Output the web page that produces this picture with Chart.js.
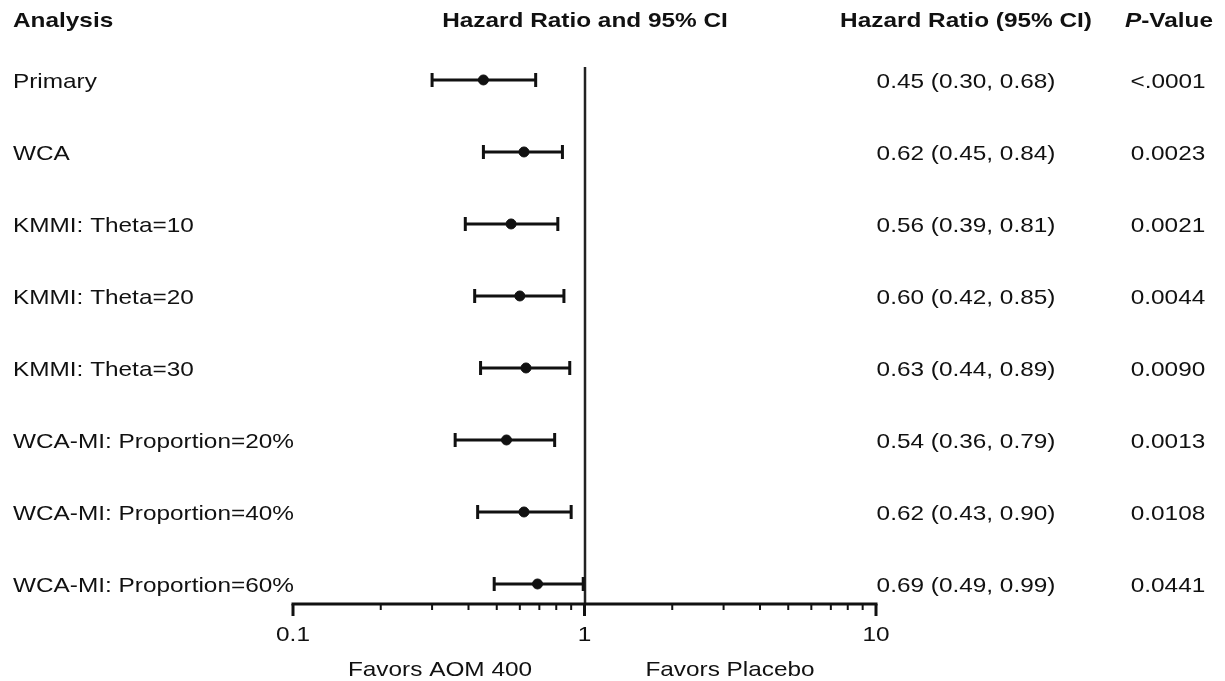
<!DOCTYPE html>
<html>
<head>
<meta charset="utf-8">
<script src="https://cdn.jsdelivr.net/npm/chart.js@4.4.1/dist/chart.umd.min.js"></script>
<style>
html,body{margin:0;padding:0;background:#fff;}
#wrap{width:1225px;height:681px;}
</style>
</head>
<body>
<div id="wrap"><canvas id="c" width="1225" height="681"></canvas></div>
<script>
const analyses = ["Primary","WCA","KMMI: Theta=10","KMMI: Theta=20","KMMI: Theta=30","WCA-MI: Proportion=20%","WCA-MI: Proportion=40%","WCA-MI: Proportion=60%"];
const hr    = [0.45,0.62,0.56,0.60,0.63,0.54,0.62,0.69];
const lower = [0.30,0.45,0.39,0.42,0.44,0.36,0.43,0.49];
const upper = [0.68,0.84,0.81,0.85,0.89,0.79,0.90,0.99];
const hrText = ["0.45 (0.30, 0.68)","0.62 (0.45, 0.84)","0.56 (0.39, 0.81)","0.60 (0.42, 0.85)","0.63 (0.44, 0.89)","0.54 (0.36, 0.79)","0.62 (0.43, 0.90)","0.69 (0.49, 0.99)"];
const pValues = ["<.0001","0.0023","0.0021","0.0044","0.0090","0.0013","0.0108","0.0441"];
const majorTicks = [0.1,1,10];
const minorTicks = [0.2,0.3,0.4,0.5,0.6,0.7,0.8,0.9,2,3,4,5,6,7,8,9];
const majorTickLabels = ["0.1","1","10"];
const favorLabels = ["Favors AOM 400","Favors Placebo"];

const FONT = '"Liberation Sans", Arial, sans-serif';
const INK = '#111';
const SX = 1.16;

function txt(ctx, s, x, y, align, font){
  ctx.save();
  ctx.font = font;
  ctx.textAlign = align;
  ctx.textBaseline = 'alphabetic';
  ctx.translate(x, y);
  ctx.scale(SX, 1);
  ctx.fillText(s, 0, 0);
  ctx.restore();
}

const forestPlugin = {
  id: 'forest',
  beforeDatasetsDraw(chart){
    const ctx = chart.ctx, x = chart.scales.x, y = chart.scales.y, a = chart.chartArea;
    ctx.save();
    ctx.strokeStyle = '#222'; ctx.lineWidth = 2.5;
    ctx.beginPath();
    const x1 = Math.round(x.getPixelForValue(1));
    ctx.moveTo(x1, a.top); ctx.lineTo(x1, a.bottom); ctx.stroke();
    ctx.strokeStyle = INK; ctx.lineWidth = 3;
    for (let i=0;i<hr.length;i++){
      const py = y.getPixelForValue(i);
      const xl = x.getPixelForValue(lower[i]), xh = x.getPixelForValue(upper[i]);
      ctx.beginPath();
      ctx.moveTo(xl, py); ctx.lineTo(xh, py);
      ctx.moveTo(xl, py-7); ctx.lineTo(xl, py+7);
      ctx.moveTo(xh, py-7); ctx.lineTo(xh, py+7);
      ctx.stroke();
    }
    ctx.restore();
  },
  afterDraw(chart){
    const ctx = chart.ctx, x = chart.scales.x, y = chart.scales.y, a = chart.chartArea;
    ctx.save();
    ctx.strokeStyle = INK; ctx.lineWidth = 3;
    const x0 = x.getPixelForValue(0.1), x10 = x.getPixelForValue(10);
    ctx.beginPath(); ctx.moveTo(x0-1.5, a.bottom); ctx.lineTo(x10+1.5, a.bottom); ctx.stroke();
    ctx.lineWidth = 3;
    majorTicks.forEach(v=>{
      const px = x.getPixelForValue(v);
      ctx.beginPath(); ctx.moveTo(px, a.bottom); ctx.lineTo(px, a.bottom+12); ctx.stroke();
    });
    ctx.lineWidth = 2;
    minorTicks.forEach(v=>{
      const px = x.getPixelForValue(v);
      ctx.beginPath(); ctx.moveTo(px, a.bottom); ctx.lineTo(px, a.bottom+6); ctx.stroke();
    });
    ctx.fillStyle = INK;
    const RF = '21px ' + FONT, BF = 'bold 21px ' + FONT, BIF = 'italic bold 21px ' + FONT;
    majorTicks.forEach((v,i)=>{
      txt(ctx, majorTickLabels[i], x.getPixelForValue(v), a.bottom+37, 'center', RF);
    });
    txt(ctx, favorLabels[0], 440, a.bottom+72, 'center', RF);
    txt(ctx, favorLabels[1], 730, a.bottom+72, 'center', RF);
    // headers
    txt(ctx, 'Analysis', 13, 27, 'left', BF);
    txt(ctx, 'Hazard Ratio and 95% CI', 585, 27, 'center', BF);
    txt(ctx, 'Hazard Ratio (95% CI)', 966, 27, 'center', BF);
    ctx.font = BIF; const pw = ctx.measureText('P').width*SX;
    ctx.font = BF; const vw = ctx.measureText('-Value').width*SX;
    const startX = 1169 - (pw+vw)/2;
    txt(ctx, 'P', startX, 27, 'left', BIF);
    txt(ctx, '-Value', startX+pw, 27, 'left', BF);
    for (let i=0;i<analyses.length;i++){
      const py = y.getPixelForValue(i) + 8;
      txt(ctx, analyses[i], 13, py, 'left', RF);
      txt(ctx, hrText[i], 966, py, 'center', RF);
      txt(ctx, pValues[i], 1168, py, 'center', RF);
    }
    ctx.restore();
  }
};

new Chart(document.getElementById('c'), {
  type: 'scatter',
  data: {
    datasets: [{
      data: hr.map((v,i)=>({x:v, y:i})),
      backgroundColor: INK,
      borderColor: INK,
      pointRadius: 5,
      pointHoverRadius: 5
    }]
  },
  options: {
    responsive: false,
    animation: false,
    events: [],
    layout: { padding: { left: 293, right: 349, top: 67, bottom: 77 } },
    plugins: { legend: {display:false}, tooltip: {enabled:false} },
    scales: {
      x: { type: 'logarithmic', min: 0.1, max: 10, display: false },
      y: { type: 'linear', reverse: true, min: -0.18, max: 7.278, display: false }
    }
  },
  plugins: [forestPlugin]
});
</script>
</body>
</html>
